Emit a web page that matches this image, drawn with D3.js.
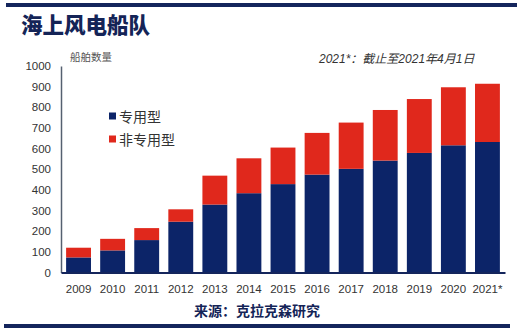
<!DOCTYPE html>
<html><head><meta charset="utf-8">
<script src="https://cdn.jsdelivr.net/npm/d3@7"></script>
<style>
html,body{margin:0;padding:0;background:#fff;}
svg{display:block;}
text{font-family:"Liberation Sans",Arial,"Noto Sans CJK SC",sans-serif;}
.cjk{font-family:"Noto Sans CJK SC",sans-serif;}
</style></head>
<body>
<svg id="c" width="528" height="332"></svg>
<script>
const years = ["2009","2010","2011","2012","2013","2014","2015","2016","2017","2018","2019","2020","2021*"];
const dedicated = [73,107,157,246,329,384,428,474,502,542,579,616,632];
const nonDedicated = [47,56,58,60,140,169,177,202,224,245,261,281,282];
const yTicks = [0,100,200,300,400,500,600,700,800,900,1000];
const seriesNames = ["专用型","非专用型"];
const colors = ["#0c2468","#e0281c"];

const svg = d3.select("#c");
const navy = "#14255c";

svg.append("rect").attr("x",6).attr("y",3).attr("width",511).attr("height",4).attr("fill",navy);
svg.append("rect").attr("x",4).attr("y",324).attr("width",506).attr("height",4).attr("fill",navy);

svg.append("text").attr("class","cjk").attr("x",21).attr("y",33)
  .attr("font-size",21.5).attr("font-weight",900).attr("fill","#142457").text("海上风电船队");

const x0 = 61, x1 = 505, yBase = 272.5, yTop = 66;
const x = d3.scaleBand().domain(years).range([x0,x1]).paddingInner(0.27).paddingOuter(0.15);
const y = d3.scaleLinear().domain([0,1000]).range([yBase,yTop]);

const stackData = years.map((yr,i)=>({year:yr, a:dedicated[i], b:nonDedicated[i]}));
const stack = d3.stack().keys(["a","b"])(stackData);

svg.append("g").selectAll("g").data(stack).join("g")
  .attr("fill",(d,i)=>colors[i])
  .selectAll("rect").data(d=>d).join("rect")
  .attr("x",d=>x(d.data.year))
  .attr("width",x.bandwidth())
  .attr("y",d=>y(d[1]))
  .attr("height",d=>y(d[0])-y(d[1]));

const yAxis = d3.axisLeft(y).tickValues(yTicks).tickFormat(d3.format("d")).tickSize(0).tickPadding(10);
const gy = svg.append("g").attr("transform",`translate(${x0},0)`).call(yAxis);
gy.select(".domain").attr("stroke","#556070").attr("stroke-width",1.5);
gy.selectAll("text").attr("font-size",11.5).attr("fill","#333").attr("font-family","'Liberation Sans',Arial,sans-serif");

const xAxis = d3.axisBottom(x).tickSize(0).tickPadding(12);
const gx = svg.append("g").attr("transform",`translate(0,${yBase})`).call(xAxis);
gx.select(".domain").attr("stroke",navy).attr("stroke-width",2);
gx.selectAll("text").attr("font-size",11.5).attr("fill","#333").attr("font-family","'Liberation Sans',Arial,sans-serif");

svg.append("text").attr("class","cjk").attr("x",70).attr("y",61)
  .attr("font-size",10.5).attr("fill","#555").text("船舶数量");

svg.append("text").attr("x",319).attr("y",63)
  .attr("font-size",12).attr("font-style","italic").attr("fill","#333")
  .text("2021*：截止至2021年4月1日");

const lg = svg.append("g").attr("transform","translate(109,110)");
seriesNames.forEach((n,i)=>{
  const g = lg.append("g").attr("transform",`translate(0,${i*23})`);
  g.append("rect").attr("x",0).attr("y",2.5).attr("width",7).attr("height",7).attr("fill",colors[i]);
  g.append("text").attr("class","cjk").attr("x",10).attr("y",11.5)
    .attr("font-size",14).attr("fill","#333").text(n);
});

svg.append("text").attr("class","cjk").attr("x",257).attr("y",316).attr("text-anchor","middle")
  .attr("font-size",14).attr("font-weight",700).attr("fill","#142457").text("来源：克拉克森研究");
</script>
</body></html>
